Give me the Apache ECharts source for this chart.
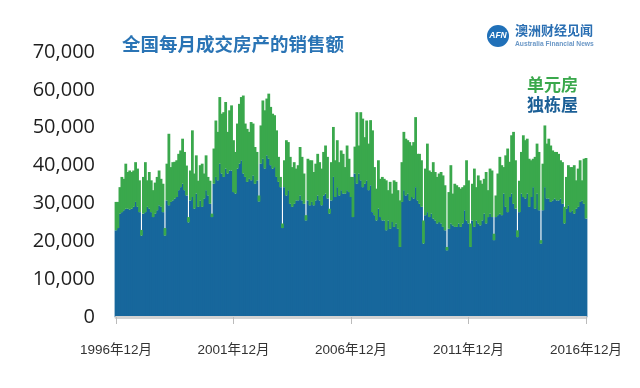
<!DOCTYPE html>
<html><head><meta charset="utf-8">
<script src="https://cdn.jsdelivr.net/npm/echarts@6/dist/echarts.min.js"></script>
<style>html,body{margin:0;padding:0;background:#fff}#c{width:640px;height:388px}</style>
</head><body><div id="c"></div>
<script>
var title = '全国每月成交房产的销售额';
var seriesNames = ['独栋屋', '单元房'];
var startYear = 1996, startMonth = 12, monthCount = 241;
var yTicks = [0, 10000, 20000, 30000, 40000, 50000, 60000, 70000];

// 独栋屋 (houses)
var houses = [
22900,23500,27300,27700,28200,28600,28600,28400,28600,29100,30400,29100,27700,
21500,27300,27700,29100,28600,27700,26400,27300,28200,29500,29100,27700,
21500,30800,29500,30400,30800,31300,31700,33500,34300,35200,33500,32100,
25000,30800,31700,28600,32600,29100,30800,29100,31300,33500,32100,29900,
26400,35200,37000,36100,40500,37900,37000,39200,37900,38700,38700,33000,
32600,39200,40500,41400,37900,37000,35700,36500,36100,37400,35200,36100,
30500,40500,41800,39200,42700,41800,40100,39200,39600,37000,35700,34300,
23500,34300,32100,33500,29900,29100,29900,30800,30800,32100,30800,29900,
25500,30800,29500,30400,29500,30800,32100,30800,29500,32100,32600,31300,
27300,30800,37000,31700,34300,32100,33500,32600,32600,33500,33000,31700,
26400,37900,35200,37900,36100,34300,35200,36100,33500,34800,27700,26900,
25500,28600,26400,25500,25500,22900,25500,23300,25100,23800,24700,23300,
18500,30400,33500,32100,32600,30800,31700,31300,34300,30800,29900,29100,
19400,26900,27700,26400,27300,26000,25500,24700,25100,24700,23800,22900,
17600,23300,24700,24200,23800,23800,24700,23800,24700,28200,25500,24700,
18500,25500,23800,25500,24700,24200,25500,27300,24700,26400,27300,26400,
20300,26400,26900,27300,26900,32600,29100,27700,31700,32600,29900,28600,
21100,27700,32600,31700,31300,32600,29100,31700,34300,28600,32600,28200,
19400,28200,34300,31300,31300,30400,30800,31300,30800,30800,31300,29900,
24700,28600,29500,27700,28200,27300,28600,29100,30400,30800,29900,26000
];
// 单元房 (units)
var units = [
7500,6900,7000,9300,8300,11900,9700,10300,9700,9600,10500,10100,8400,
1500,9700,13200,7000,9700,8400,7100,8200,8800,9200,7400,7500,
2000,9700,18900,9200,10100,9700,9700,9600,9700,11900,10100,7900,
1400,7900,17600,9300,10100,6900,9300,11400,6600,9200,4900,6100,
900,9300,14900,12800,17600,15800,17100,17600,11000,15900,17200,13700,
11000,11900,15800,16700,20600,14100,14000,12400,15400,13700,9700,7500,
1600,10100,15400,15400,15000,17200,15400,14500,13700,12300,6600,2700,
1200,7100,14600,12700,12400,10500,11000,8400,9300,12800,11500,8000,
1400,11000,11900,11000,8800,9700,11000,10100,9700,11500,12700,11000,
1300,10100,13200,9700,12400,8800,10500,10500,7000,11800,8800,5300,
10600,7100,18900,7400,18000,18100,12300,15800,12300,17200,21600,12700,
8400,12800,10100,11500,11000,13200,8000,12400,7500,12300,11000,10200,
12300,10500,15400,15000,14100,15400,13600,14900,18500,12300,13200,12300,
6100,12300,18100,12300,11000,14900,12800,12300,12800,13600,13600,11900,
900,9700,15400,8400,11400,11000,9600,10100,9600,6600,15900,11400,
6200,9700,15400,8800,12700,11900,9700,9200,13600,7100,11900,12300,
1700,5700,11000,15000,13200,7000,13600,16800,9300,15400,19000,12800,
1800,8300,11000,16300,15400,14500,12700,9700,7500,13700,13200,15400,
900,12300,16300,14500,15800,14900,13200,12300,12800,12300,10100,11000,
4400,8400,10600,11900,11400,12800,7500,10100,11000,5300,11900,16000
];

var categories = [];
for (var k = 0; k < monthCount; k++) {
  var m = startMonth - 1 + k;
  categories.push((startYear + Math.floor(m / 12)) + '年' + (m % 12 + 1) + '月');
}

var blue = '#17679c', green = '#3aa84c';
var chart = echarts.init(document.getElementById('c'), null, {renderer: 'canvas'});
chart.setOption({
  animation: false,
  backgroundColor: '#fff',
  grid: {left: 116, right: 54, top: 52, bottom: 71, containLabel: false},
  xAxis: {
    type: 'category', data: categories, boundaryGap: false,
    axisLine: {show: true, lineStyle: {color: '#d2d2d2', width: 3}},
    axisTick: {show: true, interval: 59, length: 7, lineStyle: {color: '#bbbbbb', width: 1}},
    axisLabel: {interval: 59, margin: 27, fontSize: 13.5, color: '#333',
      fontFamily: '"Liberation Sans", "Noto Sans CJK SC", sans-serif'},
    z: 10
  },
  yAxis: {
    type: 'value', min: 0, max: 70000, interval: 10000,
    axisLine: {show: false}, axisTick: {show: false}, splitLine: {show: false},
    axisLabel: {margin: 21, fontSize: 20, color: '#1e1e1e',
      fontFamily: '"Open Sans", "Liberation Sans", sans-serif',
      formatter: function (v) { return v.toLocaleString('en-US'); }}
  },
  series: [
    {name: seriesNames[0], type: 'bar', stack: 'all', data: houses, barMinWidth: 2.8,
     itemStyle: {color: blue}},
    {name: seriesNames[1], type: 'bar', stack: 'all', data: units, barMinWidth: 2.8,
     itemStyle: {color: green}}
  ],
  graphic: [
    {type: 'text', left: 122, top: 35, style: {text: title, fontSize: 18.5, fontWeight: 'bold',
      fill: '#2a74b5', fontFamily: '"Noto Sans CJK SC", sans-serif'}},
    {type: 'text', left: 527, top: 76, style: {text: seriesNames[1], fontSize: 17, fontWeight: 'bold',
      fill: green, fontFamily: '"Noto Sans CJK SC", sans-serif'}},
    {type: 'text', left: 527, top: 96, style: {text: seriesNames[0], fontSize: 17, fontWeight: 'bold',
      fill: '#1b5f96', fontFamily: '"Noto Sans CJK SC", sans-serif'}},
    {type: 'circle', shape: {cx: 498, cy: 36, r: 11}, style: {fill: '#2070b8'}},
    {type: 'text', x: 498, y: 36, style: {text: 'AFN', fontSize: 8.5, fontWeight: 'bold', fontStyle: 'italic',
      fill: '#fff', align: 'center', verticalAlign: 'middle', fontFamily: '"Liberation Sans", sans-serif'}},
    {type: 'text', left: 515, top: 24, style: {text: '澳洲财经见闻', fontSize: 13, fontWeight: 'bold',
      fill: '#2a6fb3', fontFamily: '"Noto Sans CJK SC", sans-serif'}},
    {type: 'text', left: 515, top: 41, style: {text: 'Australia Financial News', fontSize: 6.7, fontWeight: 'bold',
      fill: '#6a97c6', fontFamily: '"Liberation Sans", sans-serif'}}
  ]
});
</script></body></html>
